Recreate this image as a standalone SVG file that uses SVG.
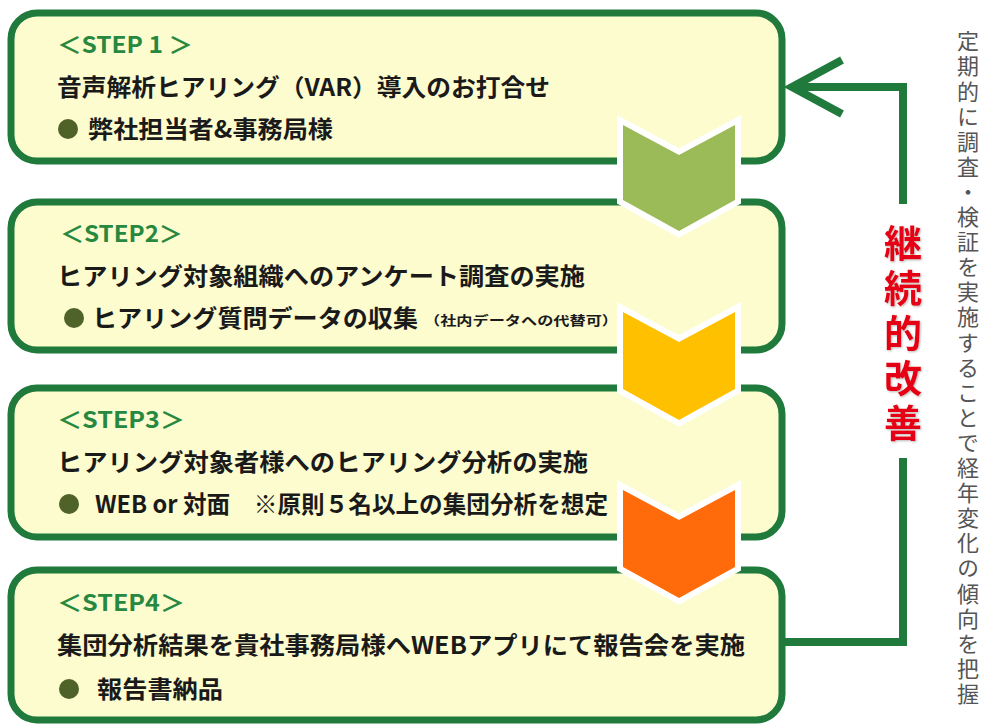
<svg xmlns="http://www.w3.org/2000/svg" width="989" height="727" viewBox="0 0 989 727">
<defs>
<style>
.box{fill:#fdfccf;stroke:#1f7a3c;stroke-width:7}
.lbl{font-family:"Noto Sans CJK JP","Noto Sans",sans-serif;font-weight:bold;font-size:23px;fill:#27883f}
.ttl{font-family:"Noto Sans CJK JP","Noto Sans",sans-serif;font-weight:bold;font-size:24px;fill:#1a1a1a}
.sm{font-family:"Noto Sans CJK JP","Noto Sans",sans-serif;font-weight:bold;font-size:13px;fill:#1a1a1a}
.dot{fill:#4f6228}
.chev{stroke:#ffffff;stroke-width:12;stroke-linejoin:miter;paint-order:stroke}
.conn{fill:none;stroke:#1f7a3c;stroke-width:8}
.red{font-family:"Noto Sans CJK JP","Noto Sans",sans-serif;font-weight:bold;font-size:38px;fill:#e60012;writing-mode:vertical-rl}
.note{font-family:"Noto Sans CJK JP","Noto Sans",sans-serif;font-size:22px;fill:#555555;writing-mode:vertical-rl}
</style>
<filter id="sh" x="-30%" y="-10%" width="160%" height="120%">
<feDropShadow dx="1" dy="1" stdDeviation="1.2" flood-color="#888888" flood-opacity="0.6"/>
</filter>
</defs>

<g id="step1">
<rect class="box" x="11" y="13" width="771" height="148" rx="26"/>
<text class="lbl" x="57" y="53" textLength="136" lengthAdjust="spacingAndGlyphs">＜STEP 1 ＞</text>
<text class="ttl" x="57" y="96" textLength="493" lengthAdjust="spacingAndGlyphs">音声解析ヒアリング（VAR）導入のお打合せ</text>
<circle class="dot" cx="68" cy="129" r="10"/>
<text class="ttl" x="88" y="138" textLength="245" lengthAdjust="spacingAndGlyphs">弊社担当者&amp;事務局様</text>
</g>

<g id="step2">
<rect class="box" x="11" y="202" width="771" height="148" rx="26"/>
<text class="lbl" x="60" y="242" textLength="123" lengthAdjust="spacingAndGlyphs">＜STEP2＞</text>
<text class="ttl" x="57" y="285" textLength="528" lengthAdjust="spacingAndGlyphs">ヒアリング対象組織へのアンケート調査の実施</text>
<circle class="dot" cx="74" cy="318" r="10"/>
<text class="ttl" x="92" y="327" textLength="326" lengthAdjust="spacingAndGlyphs">ヒアリング質問データの収集</text>
<text class="sm" x="424" y="325" textLength="194" lengthAdjust="spacingAndGlyphs">（社内データへの代替可）</text>
</g>

<g id="step3">
<rect class="box" x="11" y="388" width="771" height="149" rx="26"/>
<text class="lbl" x="57" y="428" textLength="128" lengthAdjust="spacingAndGlyphs">＜STEP3＞</text>
<text class="ttl" x="57" y="471" textLength="531" lengthAdjust="spacingAndGlyphs">ヒアリング対象者様へのヒアリング分析の実施</text>
<circle class="dot" cx="69" cy="504" r="10"/>
<text class="ttl" x="95" y="513" textLength="513" lengthAdjust="spacingAndGlyphs">WEB or 対面　※原則５名以上の集団分析を想定</text>
</g>

<g id="step4">
<rect class="box" x="11" y="570" width="771" height="150" rx="26"/>
<text class="lbl" x="57" y="611" textLength="128" lengthAdjust="spacingAndGlyphs">＜STEP4＞</text>
<text class="ttl" x="57" y="654" textLength="688" lengthAdjust="spacingAndGlyphs">集団分析結果を貴社事務局様へWEBアプリにて報告会を実施</text>
<circle class="dot" cx="69" cy="689" r="10"/>
<text class="ttl" x="97" y="698" textLength="126" lengthAdjust="spacingAndGlyphs">報告書納品</text>
</g>

<g id="connectors">
<path class="conn" d="M782 642 H903 V458 M903 204 V87 H792"/>
<polyline class="conn" points="842,60 792,87 842,114" stroke-linejoin="miter"/>
<path class="chev" fill="#9bbb59" d="M623 125 L679 155 L735 125 L735 200 L679 231 L623 200 Z"/>
<path class="chev" fill="#ffc000" d="M623 312 L679 342 L735 312 L735 389 L679 420 L623 389 Z"/>
<path class="chev" fill="#ff6a0a" d="M623 490 L679 520 L735 490 L735 567 L679 598 L623 567 Z"/>
</g>

<g id="label-kaizen">
<text class="red" x="903" y="224" letter-spacing="7" filter="url(#sh)">継続的改善</text>
</g>

<g id="note">
<text class="note" x="968" y="30" letter-spacing="3.1">定期的に調査・検証を実施することで経年変化の傾向を把握</text>
</g>
</svg>
